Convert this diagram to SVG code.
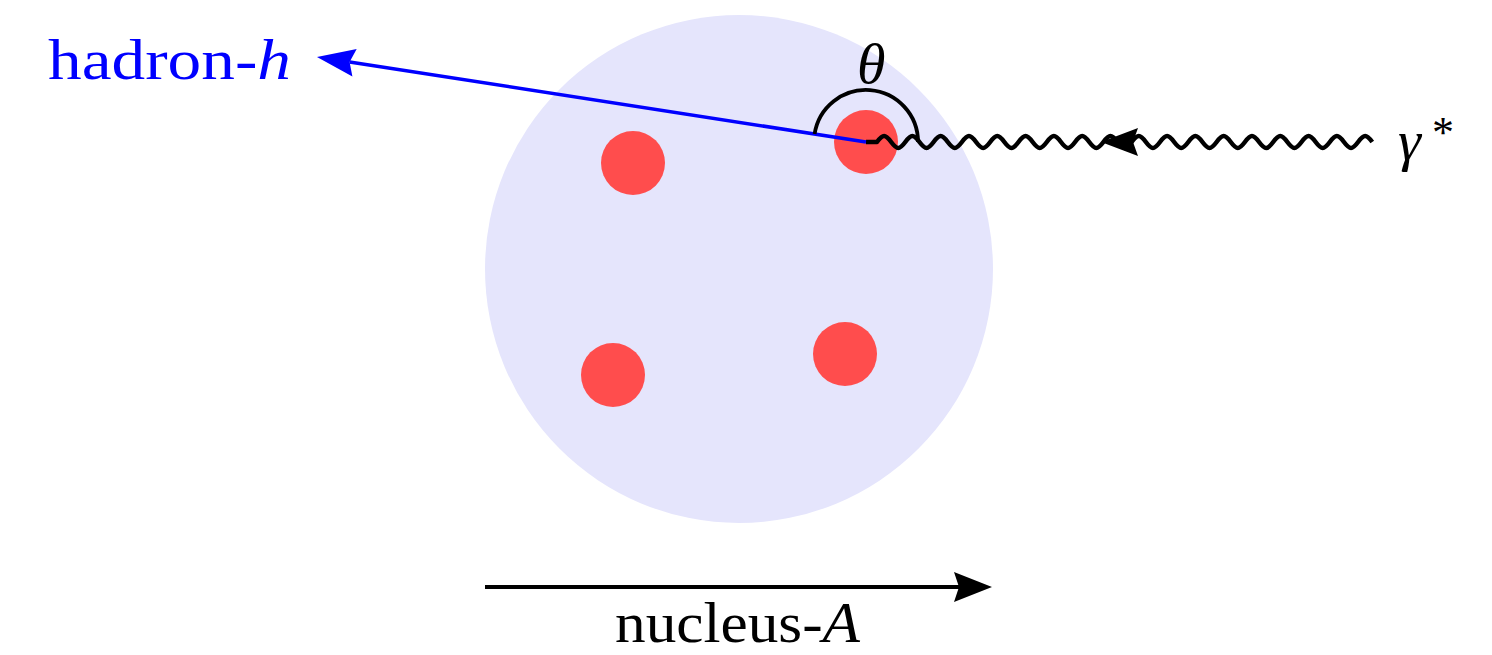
<svg xmlns="http://www.w3.org/2000/svg" width="1492" height="655" viewBox="0 0 1492 655">
<style>
.lbl{font-family:"Liberation Serif","DejaVu Serif",serif;font-size:58px}
.it{font-style:italic}
.nucleon{fill:#ff4d4d}
</style>
<defs>
<marker id="ahBlack" markerUnits="userSpaceOnUse" markerWidth="60" markerHeight="40" refX="5" refY="0" viewBox="0 -20 60 40" orient="auto" overflow="visible">
<path d="M0,-15 L38,0 L0,15 L5,0 Z" fill="#000"/>
</marker>
<marker id="ahBlue" markerUnits="userSpaceOnUse" markerWidth="60" markerHeight="40" refX="5" refY="0" viewBox="0 -20 60 40" orient="auto" overflow="visible">
<path d="M0,-14 L38,0 L0,14 L5,0 Z" fill="#0000ff"/>
</marker>
</defs>
<g id="nucleus">
<circle cx="739" cy="269" r="254" fill="#e5e5fc"/>
</g>
<g id="nucleons">
<circle class="nucleon" cx="633" cy="163" r="32"/>
<circle class="nucleon" cx="866" cy="142" r="32"/>
<circle class="nucleon" cx="613" cy="375" r="32"/>
<circle class="nucleon" cx="845" cy="354" r="32"/>
</g>
<g id="connectors" fill="none">
<path id="photon" d="M866,142 L877,142 c6,-8 8.15,-8 14.15,0 s8.15,8 14.15,0 s8.15,-8 14.15,0 s8.15,8 14.15,0 s8.15,-8 14.15,0 s8.15,8 14.15,0 s8.15,-8 14.15,0 s8.15,8 14.15,0 s8.15,-8 14.15,0 s8.15,8 14.15,0 s8.15,-8 14.15,0 s8.15,8 14.15,0 s8.15,-8 14.15,0 s8.15,8 14.15,0 s8.15,-8 14.15,0 s8.15,8 14.15,0 s8.15,-8 14.15,0 s8.15,8 14.15,0 s8.15,-8 14.15,0 s8.15,8 14.15,0 s8.15,-8 14.15,0 s8.15,8 14.15,0 s8.15,-8 14.15,0 s8.15,8 14.15,0 s8.15,-8 14.15,0 s8.15,8 14.15,0 s8.15,-8 14.15,0 s8.15,8 14.15,0 s8.15,-8 14.15,0 s8.15,8 14.15,0 s8.15,-8 14.15,0 s8.15,8 14.15,0 s8.15,-8 14.15,0 s8.15,8 14.15,0 s8.15,-8 14.15,0" stroke="#000" stroke-width="4.5" stroke-linejoin="round"/>
<path id="photon-arrow" d="M1101,142 L1138,128 L1133,142 L1138,156 Z" fill="#000"/>
<line id="hadron" x1="866" y1="142" x2="349.6" y2="62" stroke="#0000ff" stroke-width="3.5" marker-end="url(#ahBlue)"/>
<path id="theta-arc" d="M814.6,134 A52,52 0 0 1 918,142" stroke="#000" stroke-width="3.8"/>
<line id="nucleus-arrow" x1="485" y1="587" x2="959" y2="587" stroke="#000" stroke-width="4" marker-end="url(#ahBlack)"/>
</g>
<g id="label-hadron">
<text class="lbl" x="48" y="79" fill="#0000ff" textLength="243" lengthAdjust="spacingAndGlyphs">hadron-<tspan class="it">h</tspan></text>
</g>
<g id="label-theta">
<text class="lbl it" x="857" y="83">θ</text>
</g>
<g id="label-gamma">
<text class="lbl it" x="1398" y="160" font-size="62">γ<tspan font-style="normal" font-size="44" x="1432" y="147">*</tspan></text>
</g>
<g id="label-nucleus">
<text class="lbl" x="615" y="642" textLength="245" lengthAdjust="spacingAndGlyphs">nucleus-<tspan class="it">A</tspan></text>
</g>
</svg>
